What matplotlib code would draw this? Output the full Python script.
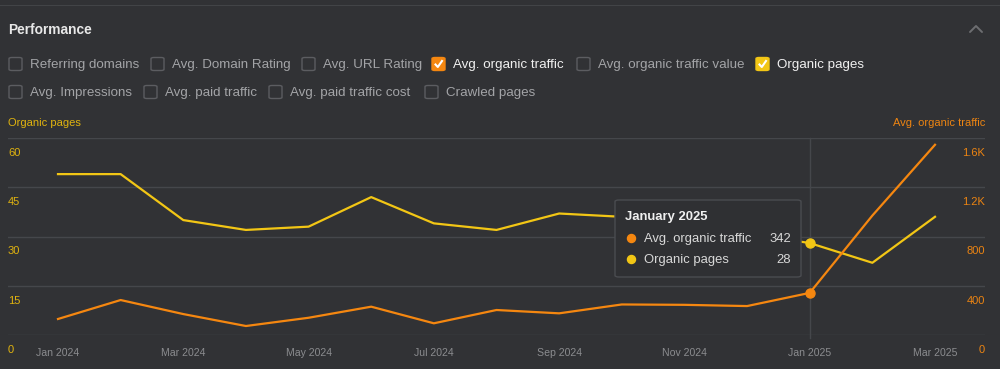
import matplotlib
matplotlib.use("Agg")
from matplotlib import pyplot as plt
from matplotlib.patches import FancyBboxPatch
from matplotlib.lines import Line2D
import matplotlib.transforms as mtransforms

plt.rcParams['font.family'] = ['Liberation Sans', 'DejaVu Sans']

# data
months = ['Jan 2024', 'Feb 2024', 'Mar 2024', 'Apr 2024', 'May 2024', 'Jun 2024',
          'Jul 2024', 'Aug 2024', 'Sep 2024', 'Oct 2024', 'Nov 2024', 'Dec 2024',
          'Jan 2025', 'Feb 2025', 'Mar 2025']
organic_pages = [49, 49, 35, 32, 33, 42, 34, 32, 37, 36, 35, 31, 28, 22, 36]
avg_traffic = [130, 284, 170, 73, 140, 230, 95, 203, 176, 248, 245, 235, 342, 970, 1545]

left_ticks = [0, 15, 30, 45, 60]
right_ticks = [0, 400, 800, 1200, 1600]
right_labels = ['0', '400', '800', '1.2K', '1.6K']

row1 = ['Referring domains', 'Avg. Domain Rating', 'Avg. URL Rating',
        'Avg. organic traffic', 'Avg. organic traffic value', 'Organic pages']
row1_x = [9, 151, 302, 432, 577, 756]
row2 = ['Avg. Impressions', 'Avg. paid traffic', 'Avg. paid traffic cost', 'Crawled pages']
row2_x = [9, 144, 269, 425]

hover = 12  # Jan 2025

BG = '#313235'
GRID = '#45474b'
ORANGE = '#f58710'
YELLOW = '#f2c615'
W, H = 1000, 369

fig = plt.figure(figsize=(10, 3.69), dpi=100, facecolor=BG)


def fx(x):
    return x / W


def fy(y):
    return 1 - y / H


# top separator line and header
fig.add_artist(Line2D([0, 1], [fy(5), fy(5)], color='#424447', lw=0.8))
fig.text(fx(8), fy(30), 'Performance', color='#e8e8e8', fontsize=9.9,
         fontweight='bold', va='center', ha='left')
fig.add_artist(Line2D([fx(970), fx(976), fx(982)], [fy(32), fy(26), fy(32)],
                      color='#6d6e71', lw=1.4, solid_capstyle='round'))


def checkbox(x, y, label, color=None):
    size = 13
    if color is None:
        box = FancyBboxPatch((fx(x), fy(y + size / 2)), fx(size), size / H,
                             boxstyle='round,pad=0,rounding_size=0.003',
                             transform=fig.transFigure, facecolor='none',
                             edgecolor='#5c5d61', lw=1)
        txt_color = '#a3a4a7'
    else:
        box = FancyBboxPatch((fx(x), fy(y + size / 2)), fx(size), size / H,
                             boxstyle='round,pad=0,rounding_size=0.003',
                             transform=fig.transFigure, facecolor=color,
                             edgecolor=color, lw=1)
        txt_color = '#f0f0f0'
        fig.add_artist(Line2D([fx(x + 3.5), fx(x + 5.8), fx(x + 10)],
                              [fy(y + 0.5), fy(y + 3), fy(y - 3)],
                              color='white', lw=1.5, transform=fig.transFigure))
    fig.add_artist(box)
    fig.text(fx(x + 21), fy(y + 1), label, color=txt_color, fontsize=9.6,
             va='center', ha='left')


for lab, x in zip(row1, row1_x):
    c = None
    if lab == 'Avg. organic traffic':
        c = ORANGE
    elif lab == 'Organic pages':
        c = YELLOW
    checkbox(x, 64, lab, c)
for lab, x in zip(row2, row2_x):
    checkbox(x, 92, lab)

# axis titles
fig.text(fx(8), fy(123), 'Organic pages', color='#e0b30f', fontsize=8,
         va='center', ha='left')
fig.text(fx(985), fy(123), 'Avg. organic traffic', color='#ec8412', fontsize=8,
         va='center', ha='right')

# main axes: 8..985 px horizontally, 138..335 px vertically
ax = fig.add_axes([fx(8), fy(335), fx(977), 197 / H])
ax.set_facecolor('none')
ax2 = ax.twinx()

xs = list(range(len(months)))
ax.set_xlim(-50 / 62.64, len(months) - 1 + 50 / 62.64)
ax.set_ylim(0, 60)
ax2.set_ylim(0, 1600)

for a in (ax, ax2):
    for s in a.spines.values():
        s.set_visible(False)
    a.tick_params(length=0)
    a.set_yticks([])

for v in left_ticks:
    ax.axhline(v, color=GRID, lw=1, zorder=0)
ax.plot([hover, hover], [-0.8, 60], color=GRID, lw=1, zorder=0, clip_on=False)

ax.plot(xs, organic_pages, color=YELLOW, lw=1.6, zorder=3)
ax.plot(hover, organic_pages[hover], 'o', color=YELLOW, ms=6.5, zorder=4)
ax2.plot(xs, avg_traffic, color=ORANGE, lw=1.6, zorder=3)
ax2.plot(hover, avg_traffic[hover], 'o', color=ORANGE, ms=6.5, zorder=4)

# tick labels sit just under their grid lines
off = mtransforms.ScaledTranslation(0, -15 / 100, fig.dpi_scale_trans)
for v in left_ticks:
    ax.text(0, v, str(v), transform=ax.get_yaxis_transform() + off,
            color='#e0b30f', fontsize=8, ha='left', va='center')
for v, lab in zip(right_ticks, right_labels):
    ax2.text(1, v, lab, transform=ax2.get_yaxis_transform() + off,
             color='#ec8412', fontsize=8, ha='right', va='center')

ax.set_xticks(xs[::2])
ax.set_xticklabels(months[::2], color='#8b8c8f', fontsize=7.6)
ax.tick_params(axis='x', pad=9)

# hover tooltip
tip = FancyBboxPatch((fx(615), fy(277)), fx(186), 77 / H,
                     boxstyle='round,pad=0,rounding_size=0.004',
                     transform=fig.transFigure, facecolor='#2f3033',
                     edgecolor='#4a4c50', lw=1, zorder=10)
fig.add_artist(tip)
fig.text(fx(625), fy(217), 'January 2025', color='#f0f0f0', fontsize=9.4,
         fontweight='bold', va='center', ha='left', zorder=11)
tip_rows = [('Avg. organic traffic', avg_traffic[hover], ORANGE, 238),
            ('Organic pages', organic_pages[hover], YELLOW, 259)]
for lab, val, c, y in tip_rows:
    fig.add_artist(Line2D([fx(631)], [fy(y)], marker='o', color=c, ms=5.8,
                          lw=0, zorder=11))
    fig.text(fx(644), fy(y + 1), lab, color='#d8d8d8', fontsize=9.4,
             va='center', ha='left', zorder=11)
    fig.text(fx(791), fy(y + 1), str(val), color='#d8d8d8', fontsize=9.4,
             va='center', ha='right', zorder=11)

plt.savefig('out.png', dpi=100, facecolor=BG)
